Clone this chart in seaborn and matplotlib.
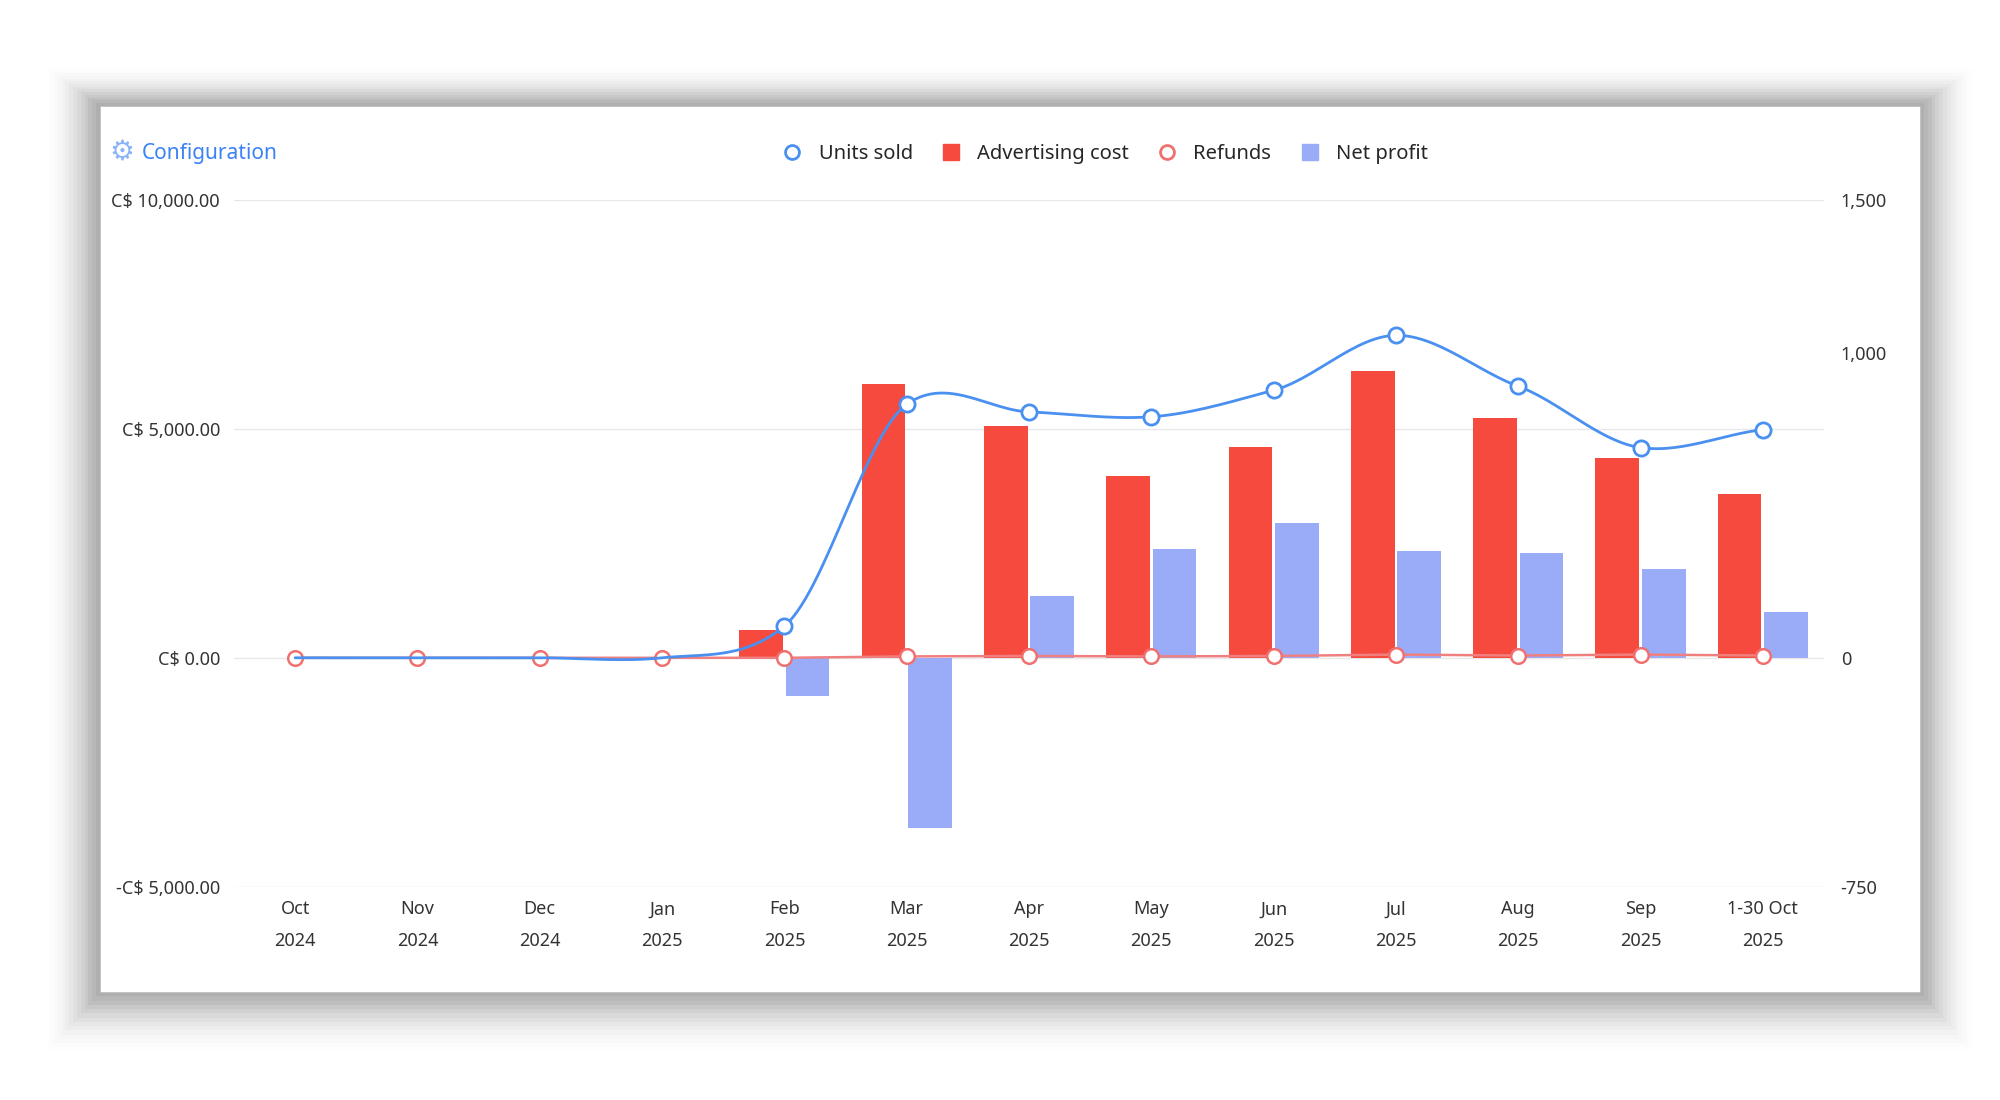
import numpy as np, pandas as pd
import matplotlib
matplotlib.use("Agg")
import matplotlib.pyplot as plt
import seaborn as sns
from matplotlib.patches import Rectangle
from matplotlib.lines import Line2D

months = ["Oct\n2024","Nov\n2024","Dec\n2024","Jan\n2025","Feb\n2025","Mar\n2025","Apr\n2025",
          "May\n2025","Jun\n2025","Jul\n2025","Aug\n2025","Sep\n2025","1-30 Oct\n2025"]
units_sold = [0, 0, 0, 0, 104, 831, 806, 790, 877, 1057, 890, 689, 748]
advertising_cost = [0, 0, 0, 0, 610, 5990, 5070, 3980, 4600, 6270, 5240, 4370, 3570]
net_profit = [0, 0, 0, 0, -840, -3730, 1360, 2370, 2950, 2340, 2280, 1950, 1000]
refunds = [0, 0, 0, 0, 0, 30, 40, 30, 40, 70, 50, 70, 50]

sns.set_theme(style="white")
plt.rcParams['font.family'] = ['Noto Sans', 'DejaVu Sans']

fig = plt.figure(figsize=(20, 11), dpi=100)
fig.patch.set_facecolor("white")
# soft card shadow
for i, a in enumerate(np.linspace(0.045, 0.004, 14)):
    d = (i + 1) * 0.0035
    fig.patches.append(Rectangle((0.05 - d*0.55, 0.098 - d*1.1), 0.91 + d*1.1, 0.806 + d*1.8,
                                 transform=fig.transFigure, facecolor="black", alpha=a, zorder=0, linewidth=0))
fig.patches.append(Rectangle((0.05, 0.098), 0.91, 0.806, transform=fig.transFigure,
                             facecolor="white", edgecolor="#bbbbbb", lw=0.5, zorder=1))

ax = fig.add_axes([0.117, 0.194, 0.795, 0.624])
ax.set_zorder(2); ax.patch.set_alpha(0)
df = pd.DataFrame({"month": months * 2,
                   "value": advertising_cost + net_profit,
                   "series": ["Advertising cost"] * 13 + ["Net profit"] * 13})
sns.barplot(data=df, x="month", y="value", hue="series", order=months,
            hue_order=["Advertising cost", "Net profit"],
            palette={"Advertising cost": "#f74a3e", "Net profit": "#9aacf8"},
            width=0.76, gap=0.06, dodge=True, ax=ax, legend=False, saturation=1, linewidth=0)
ax.set_ylim(-5000, 10000)
ax.set_xlim(-0.5, 12.5)
ax.set_yticks([-5000, 0, 5000, 10000])
ax.set_yticklabels(["-C$ 5,000.00", "C$ 0.00", "C$ 5,000.00", "C$ 10,000.00"])
ax.grid(axis="y", color="#e8e8e8", lw=1)
ax.set_axisbelow(True)
for s in ax.spines.values(): s.set_visible(False)
ax.set_xlabel(""); ax.set_ylabel("")
ax.tick_params(axis="both", length=0, labelsize=13, colors="#333333", pad=10)
for t in ax.get_xticklabels(): t.set_linespacing(2.0)

x = np.arange(13)
ax.plot(x, refunds, color="#f08080", lw=1.8, zorder=4)
ax.scatter(x, refunds, s=110, facecolor="white", edgecolor="#f07070", lw=1.8, zorder=5)

ax2 = ax.twinx()
ax2.set_ylim(-750, 1500)
ax2.set_yticks([-750, 0, 1000, 1500])
ax2.set_yticklabels(["-750", "0", "1,000", "1,500"])
for s in ax2.spines.values(): s.set_visible(False)
ax2.tick_params(axis="y", length=0, labelsize=13, colors="#333333", pad=12)
y = np.array(units_sold, float)
m = np.gradient(y) * 0.8
xs, ys = [], []
for i in range(12):
    t = np.linspace(0, 1, 30)
    h00 = 2*t**3 - 3*t**2 + 1; h10 = t**3 - 2*t**2 + t; h01 = -2*t**3 + 3*t**2; h11 = t**3 - t**2
    xs.append(i + t); ys.append(h00*y[i] + h10*m[i] + h01*y[i+1] + h11*m[i+1])
ax2.plot(np.concatenate(xs), np.concatenate(ys), color="#4a90f0", lw=2, zorder=4)
ax2.scatter(x[4:], y[4:], s=120, facecolor="white", edgecolor="#4a90f0", lw=2, zorder=5)

handles = [Line2D([], [], marker="o", ls="", markerfacecolor="white", markeredgecolor="#4a90f0", mew=2, ms=10),
           Line2D([], [], marker="s", ls="", color="#f74a3e", ms=11),
           Line2D([], [], marker="o", ls="", markerfacecolor="white", markeredgecolor="#f07070", mew=2, ms=10),
           Line2D([], [], marker="s", ls="", color="#9aacf8", ms=11)]
fig.legend(handles, ["Units sold", "Advertising cost", "Refunds", "Net profit"], loc="center",
           bbox_to_anchor=(0.55, 0.86), ncol=4, frameon=False, fontsize=14.5, handletextpad=0.3,
           columnspacing=0.9)
fig.text(0.071, 0.86, "Configuration", color="#3b82f6", fontsize=15, va="center")
fig.text(0.061, 0.862, "\u2699", color="#8ab4f8", fontsize=20, va="center", ha="center", family="DejaVu Sans")

fig.savefig("out.png", dpi=100)
